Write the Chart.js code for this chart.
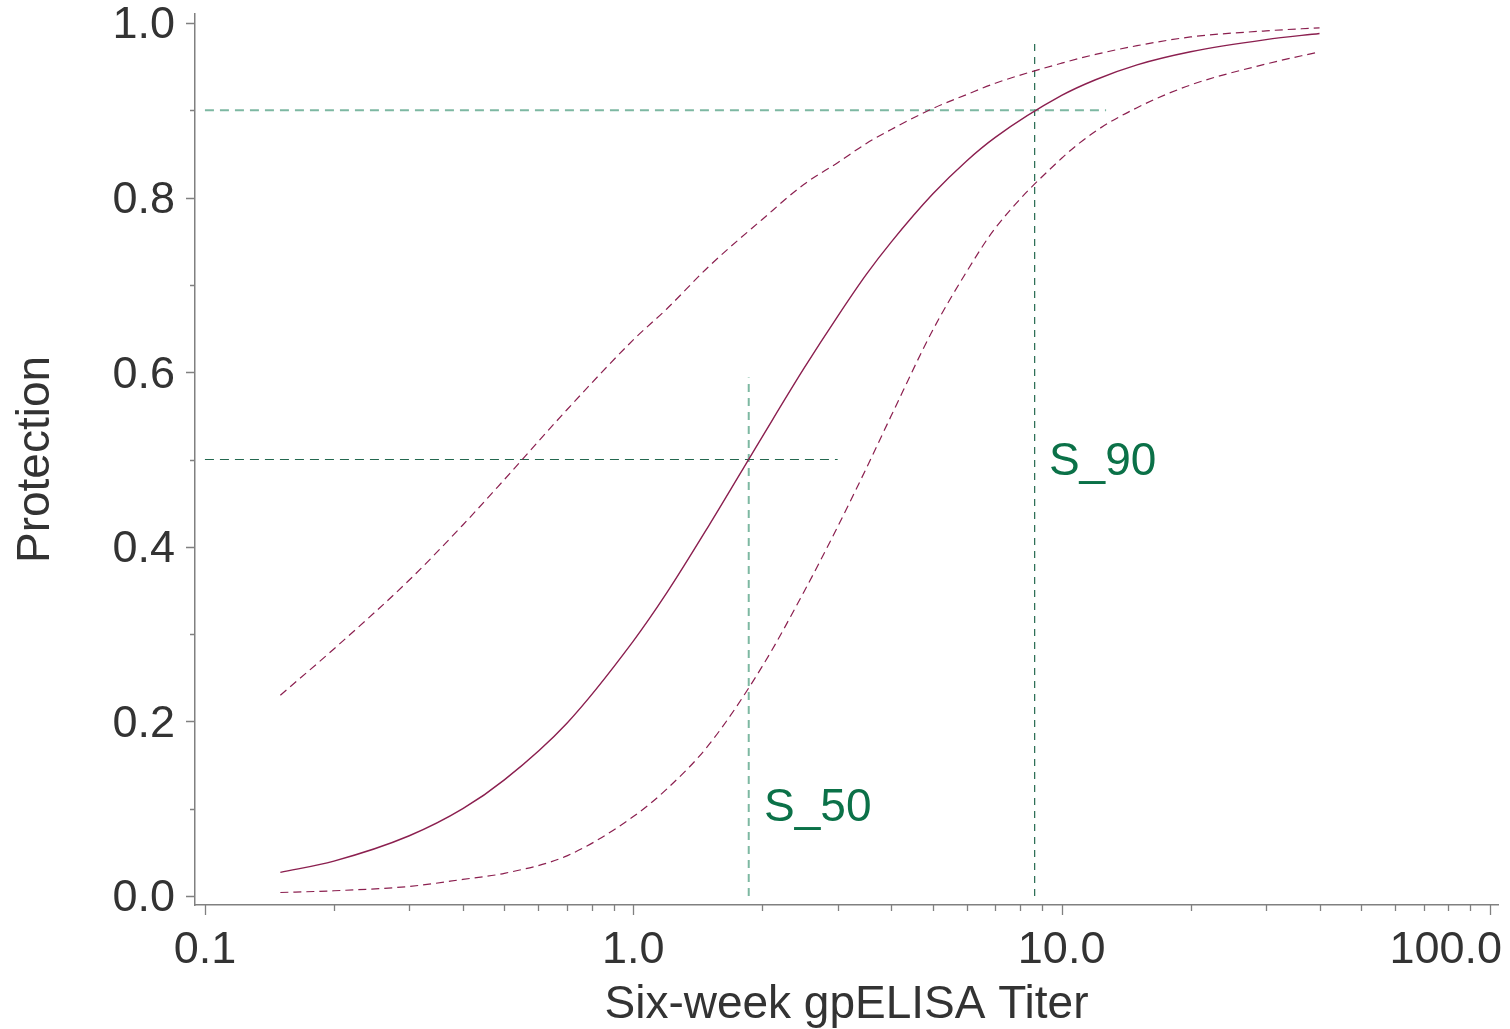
<!DOCTYPE html>
<html>
<head>
<meta charset="utf-8">
<script src="https://cdn.jsdelivr.net/npm/chart.js@4.4.1/dist/chart.umd.min.js"></script>
<style>
  html, body { margin: 0; padding: 0; background: #fff; }
</style>
</head>
<body>
<canvas id="protectionChart" width="1510" height="1029"></canvas>
<script>
// titer (x, log scale) vs fitted protection + lower/upper band
const titer      = [0.15, 0.2, 0.3, 0.4, 0.5, 0.7, 1.0, 1.2, 1.5, 2, 2.5, 3, 3.5, 4, 5, 6, 7, 10, 12, 15, 20, 30, 40];
const protection = [0.027, 0.040, 0.069, 0.100, 0.133, 0.198, 0.292, 0.348, 0.424, 0.526, 0.604, 0.664, 0.712, 0.749, 0.804, 0.842, 0.869, 0.917, 0.935, 0.952, 0.967, 0.981, 0.988];
const upperCI    = [0.230, 0.283, 0.362, 0.425, 0.477, 0.557, 0.637, 0.673, 0.721, 0.775, 0.815, 0.840, 0.862, 0.878, 0.902, 0.918, 0.931, 0.954, 0.964, 0.974, 0.984, 0.991, 0.9945];
const lowerCI    = [0.004, 0.006, 0.011, 0.019, 0.026, 0.046, 0.091, 0.123, 0.173, 0.263, 0.348, 0.423, 0.490, 0.550, 0.648, 0.715, 0.765, 0.845, 0.876, 0.903, 0.929, 0.953, 0.967];

// S_50 / S_90 reference lines
const s50Titer = 1.86;
const s50Top = 0.594;
const s50LineEnd = 3.0;
const s90Titer = 8.65;
const s90Top = 0.979;
const s90LineEnd = 12.7;

// axis ticks
const xMajorTicks = [0.1, 1, 10, 100];
const xTickLabels = ['0.1', '1.0', '10.0', '100.0'];
const xMinorTicks = [0.2, 0.3, 0.4, 0.5, 0.6, 0.7, 0.8, 0.9, 2, 3, 4, 5, 6, 7, 8, 9, 20, 30, 40, 50, 60, 70, 80, 90];
const yMajorTicks = [0, 0.2, 0.4, 0.6, 0.8, 1.0];
const yMinorTicks = [0.1, 0.3, 0.5, 0.7, 0.9];

const FONT = "'Liberation Sans', Arial, Helvetica, sans-serif";
const CURVE = '#8b1f4f';
const GREEN_DARK = '#23684f';
const GREEN_LIGHT = '#7db8a2';
const TEXT = '#333333';
const AXIS = '#808080';

const pts = (ys) => titer.map((t, i) => ({ x: t, y: ys[i] }));

// tick marks (major longer than minor), x labels and the S_ labels
const axisExtras = {
  id: 'axisExtras',
  afterDraw(chart) {
    const { ctx, scales: { x, y } } = chart;
    ctx.save();
    ctx.strokeStyle = AXIS;
    ctx.lineWidth = 1.3;
    ctx.beginPath();
    xMajorTicks.forEach(v => { const px = Math.round(x.getPixelForValue(v)) + 0.5; ctx.moveTo(px, x.top); ctx.lineTo(px, x.top + 10); });
    xMinorTicks.forEach(v => { const px = Math.round(x.getPixelForValue(v)) + 0.5; ctx.moveTo(px, x.top); ctx.lineTo(px, x.top + 6); });
    yMajorTicks.forEach(v => { const py = Math.round(y.getPixelForValue(v)) + 0.5; ctx.moveTo(y.right, py); ctx.lineTo(y.right - 9, py); });
    yMinorTicks.forEach(v => { const py = Math.round(y.getPixelForValue(v)) + 0.5; ctx.moveTo(y.right, py); ctx.lineTo(y.right - 5, py); });
    ctx.stroke();

    ctx.font = `45px ${FONT}`;
    ctx.fillStyle = TEXT;
    ctx.textBaseline = 'alphabetic';
    xMajorTicks.forEach((v, i) => {
      const px = x.getPixelForValue(v);
      const w = ctx.measureText(xTickLabels[i]).width;
      // keep the last label inside the canvas
      if (px + w / 2 > chart.width - 8) {
        ctx.textAlign = 'right';
        ctx.fillText(xTickLabels[i], chart.width - 8, x.top + 58);
      } else {
        ctx.textAlign = 'center';
        ctx.fillText(xTickLabels[i], px, x.top + 58);
      }
    });

    ctx.font = `46px ${FONT}`;
    ctx.fillStyle = '#0b7148';
    ctx.textAlign = 'left';
    ctx.textBaseline = 'middle';
    ctx.fillText('S_50', x.getPixelForValue(2.02), y.getPixelForValue(0.1));
    ctx.fillText('S_90', x.getPixelForValue(9.34), y.getPixelForValue(0.497));
    ctx.restore();
  }
};

new Chart(document.getElementById('protectionChart').getContext('2d'), {
  type: 'line',
  data: {
    datasets: [
      { data: pts(protection), borderColor: CURVE, borderWidth: 1.4, cubicInterpolationMode: 'monotone' },
      { data: pts(upperCI), borderColor: CURVE, borderWidth: 1.2, borderDash: [8, 5], cubicInterpolationMode: 'monotone' },
      { data: pts(lowerCI), borderColor: CURVE, borderWidth: 1.2, borderDash: [8, 5], cubicInterpolationMode: 'monotone' },
      { data: [{ x: 0.1, y: 0.5 }, { x: s50LineEnd, y: 0.5 }], borderColor: GREEN_DARK, borderWidth: 1.2, borderDash: [9, 6] },
      { data: [{ x: s50Titer, y: 0 }, { x: s50Titer, y: s50Top }], borderColor: GREEN_LIGHT, borderWidth: 2, borderDash: [8, 6] },
      { data: [{ x: 0.1, y: 0.9 }, { x: s90LineEnd, y: 0.9 }], borderColor: GREEN_LIGHT, borderWidth: 2, borderDash: [9, 6] },
      { data: [{ x: s90Titer, y: 0 }, { x: s90Titer, y: s90Top }], borderColor: GREEN_DARK, borderWidth: 1.2, borderDash: [7, 6] },
    ],
  },
  options: {
    responsive: false,
    animation: false,
    layout: { padding: { top: 14, right: 12, left: 0, bottom: 0 } },
    elements: { point: { radius: 0 } },
    plugins: { legend: { display: false }, tooltip: { enabled: false } },
    scales: {
      x: {
        type: 'logarithmic',
        min: 0.0948,
        max: 104.4,
        grid: { display: false, drawTicks: false },
        border: { color: AXIS, width: 1.5 },
        ticks: { display: false },
        title: {
          display: true,
          text: 'Six-week gpELISA Titer',
          color: TEXT,
          font: { family: FONT, size: 46, lineHeight: 1.05 },
          padding: 0,
        },
        afterFit(s) { s.height = 124; s.paddingLeft = 0; s.paddingRight = 0; },
      },
      y: {
        min: -0.0103,
        max: 1.0103,
        afterBuildTicks(s) { s.ticks = yMajorTicks.map(v => ({ value: v })); },
        grid: { display: false, drawTicks: true, tickLength: 10 },
        border: { color: AXIS, width: 1.5 },
        ticks: {
          callback: (v) => Number(v).toFixed(1),
          color: TEXT,
          font: { family: FONT, size: 45 },
          padding: 10,
          labelOffset: 3,
        },
        title: {
          display: true,
          text: 'Protection',
          color: TEXT,
          font: { family: FONT, size: 46, lineHeight: 1.2 },
          padding: { top: 9, bottom: 0 },
        },
        afterFit(s) { s.width = 195; s.paddingTop = 0; s.paddingBottom = 0; },
      },
    },
  },
  plugins: [axisExtras],
});
</script>
</body>
</html>
